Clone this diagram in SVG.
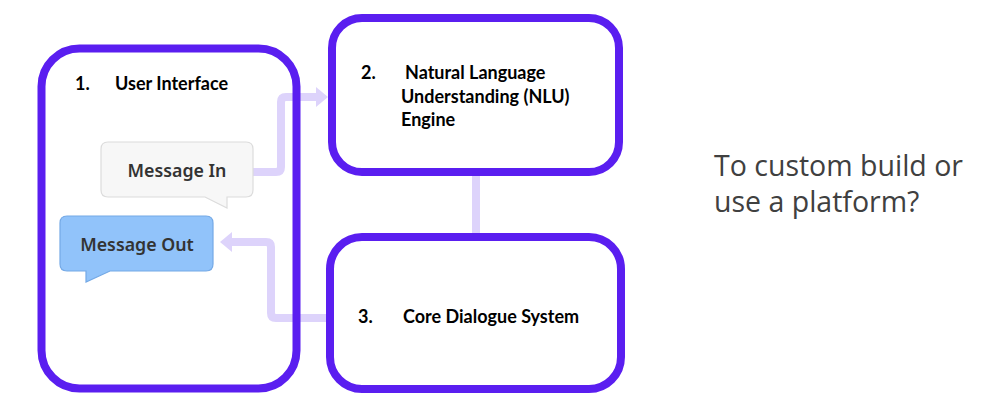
<svg xmlns="http://www.w3.org/2000/svg" width="998" height="416" viewBox="0 0 998 416">
<style>
.box{fill:none;stroke:#5a1ef0;stroke-width:8}
.conn{fill:none;stroke:#ddd3fb;stroke-width:8;stroke-linejoin:round}
.lbl{font-family:Lato,"Liberation Sans",sans-serif;font-weight:bold;font-size:18px;fill:#000}
.msg{font-family:"Noto Sans","Open Sans",sans-serif;font-weight:600;font-size:17.8px;fill:#333;text-anchor:middle}
.side{font-family:"Open Sans","Noto Sans",sans-serif;font-size:28.5px;fill:#404040}
</style>
<defs>
<marker id="ah" viewBox="0 0 12 20" refX="0" refY="10" markerWidth="12" markerHeight="20" orient="auto" markerUnits="userSpaceOnUse">
<path d="M0,0 L12,10 L0,20 Z" fill="#ddd3fb"/>
</marker>
</defs>
<g id="connectors">
<path class="conn" d="M253,172 H276 Q281,172 281,167 V102 Q281,97 286,97 H316" marker-end="url(#ah)"/>
<path class="conn" d="M328,318 H276 Q271,318 271,313 V247 Q271,242 266,242 H232" marker-end="url(#ah)"/>
<path class="conn" d="M476,176 V233"/>
</g>
<g id="node-ui">
<rect class="box" x="41.5" y="48.5" width="255" height="340" rx="38"/>
<text class="lbl" x="75" y="90">1.</text>
<text class="lbl" x="115" y="90">User Interface</text>
</g>
<g id="node-msg-in">
<path d="M108,142 H246 Q253,142 253,149 V190 Q253,197 246,197 H227 V208 L205,197 H108 Q101,197 101,190 V149 Q101,142 108,142 Z" fill="#f7f7f7" stroke="#dcdcdc" stroke-width="1.2"/>
<text class="msg" x="177" y="177">Message In</text>
</g>
<g id="node-msg-out">
<path d="M67,216 H206 Q213,216 213,223 V264 Q213,271 206,271 H110 L86,282 V271 H67 Q60,271 60,264 V223 Q60,216 67,216 Z" fill="#91c3fa" stroke="#74a9e6" stroke-width="1.2"/>
<text class="msg" x="137" y="251">Message Out</text>
</g>
<g id="node-nlu">
<rect class="box" x="332" y="18" width="287" height="154" rx="30" fill="#fff"/>
<text class="lbl" x="361" y="79">2.</text>
<text class="lbl" x="405" y="79">Natural Language</text>
<text class="lbl" x="401" y="103">Understanding (NLU)</text>
<text class="lbl" x="401" y="126">Engine</text>
</g>
<g id="node-core">
<rect class="box" x="330" y="237" width="291" height="152" rx="32"/>
<text class="lbl" x="358" y="323">3.</text>
<text class="lbl" x="403" y="323">Core Dialogue System</text>
</g>
<text class="side" x="714" y="176">To custom build or</text>
<text class="side" x="714" y="212">use a platform?</text>
</svg>
